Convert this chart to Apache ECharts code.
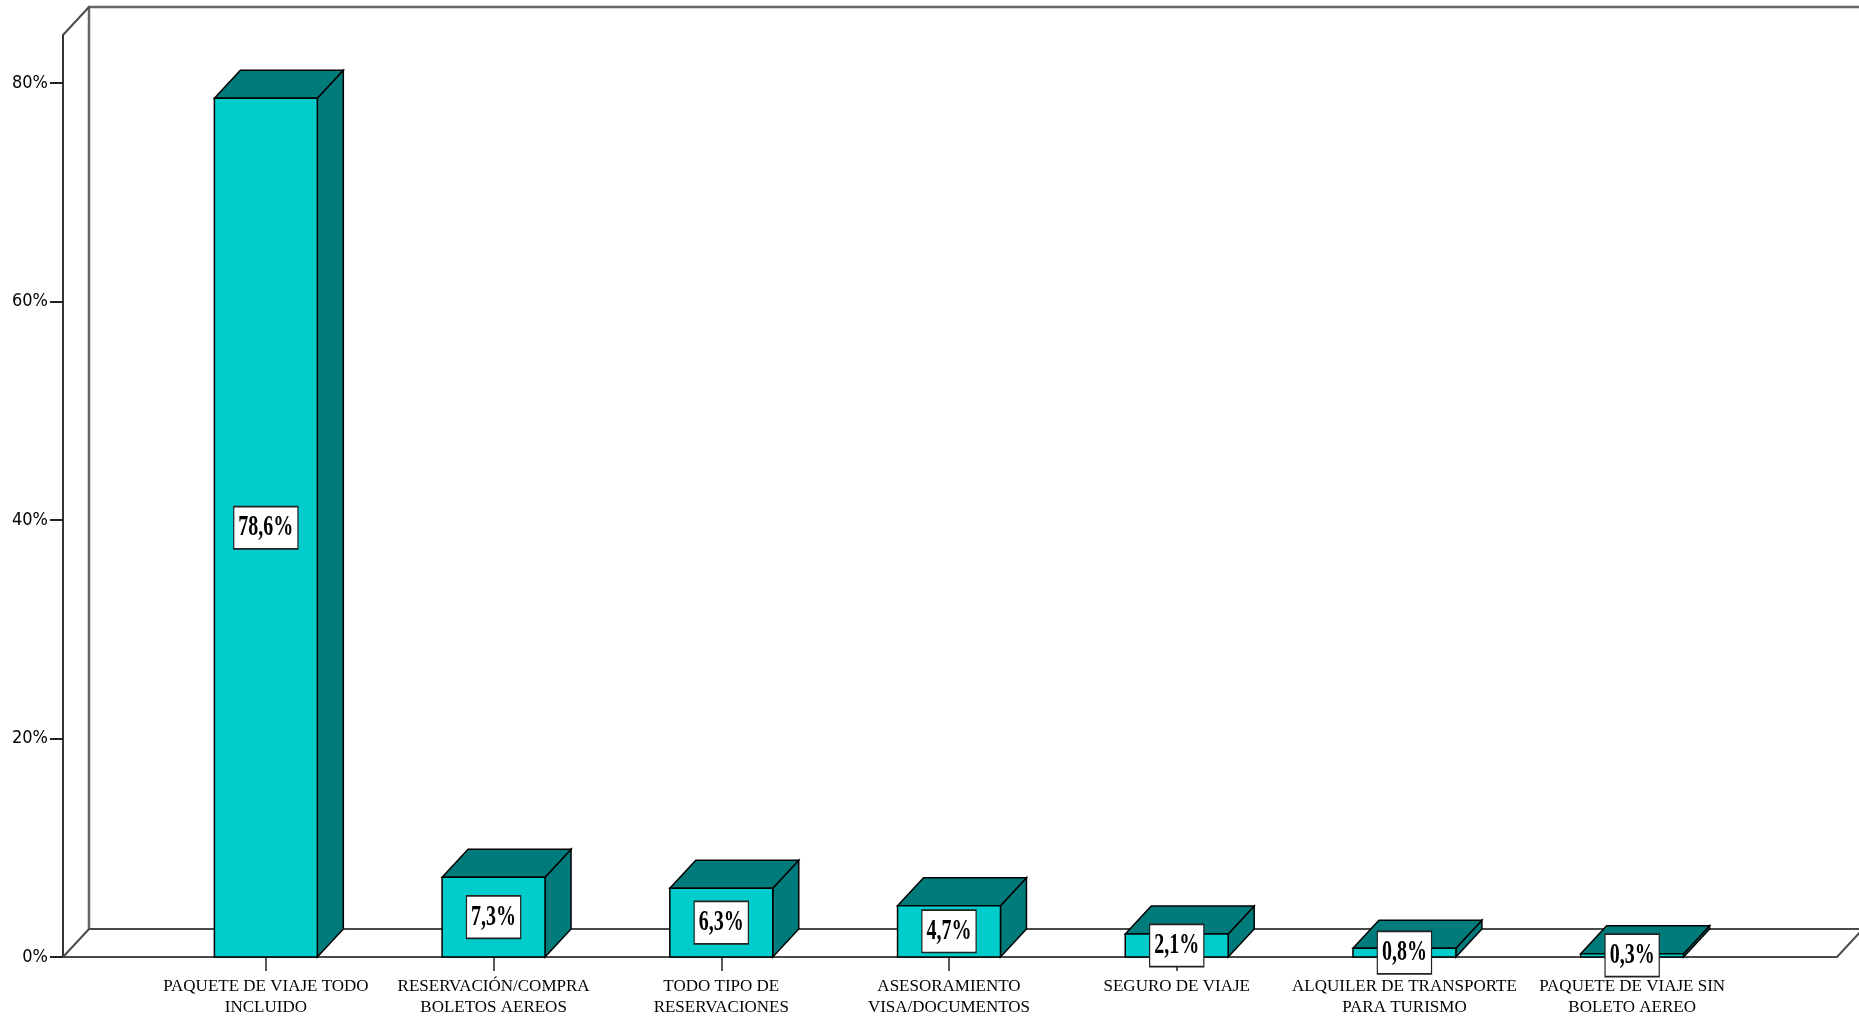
<!DOCTYPE html>
<html>
<head>
<meta charset="utf-8">
<script src="https://cdn.jsdelivr.net/npm/echarts@6.0.0/dist/echarts.min.js"></script>
<style>
  html, body { margin: 0; padding: 0; background: #fff; }
  #chart { width: 1859px; height: 1024px; }
</style>
</head>
<body>
<div id="chart"></div>
<script>
// datos
var categories = [
  'PAQUETE DE VIAJE TODO\nINCLUIDO',
  'RESERVACIÓN/COMPRA\nBOLETOS AEREOS',
  'TODO TIPO DE\nRESERVACIONES',
  'ASESORAMIENTO\nVISA/DOCUMENTOS',
  'SEGURO DE VIAJE',
  'ALQUILER DE TRANSPORTE\nPARA TURISMO',
  'PAQUETE DE VIAJE SIN\nBOLETO AEREO'
];
var values = [78.6, 7.3, 6.3, 4.7, 2.1, 0.8, 0.3];
var yTicks = [0, 20, 40, 60, 80];

// profundidad del efecto 3D
var DX = 26, DY = -28;
var EXT_L = 89, EXT_R = 91;
var FRONT = '#00CCCC', DARK = '#007B7B';

function fmt(v) {
  return v.toFixed(1).replace('.', ',') + '%';
}

var chart = echarts.init(document.getElementById('chart'));

function renderFrame(params, api) {
  var cs = params.coordSys;
  var L = cs.x - EXT_L, R = cs.x + cs.width + EXT_R;
  var T = cs.y, B = cs.y + cs.height;
  function line(pts, color, w) {
    return { type: 'polyline', shape: { points: pts },
      style: { stroke: color || '#4a4a4a', lineWidth: w || 2, fill: null } };
  }
  return {
    type: 'group',
    children: [
      line([[L + DX, B + DY], [L + DX, T + DY], [R + DX + 10, T + DY]], '#666', 2.5),
      line([[L, T], [L + DX, T + DY]]),
      line([[L, B], [L + DX, B + DY], [R + DX, B + DY]]),
      line([[L, B], [R, B], [R + DX, B + DY]])
    ]
  };
}

function renderBar(params, api) {
  var i = api.value(0), v = api.value(1);
  var top = api.coord([i, v]);
  var base = api.coord([i, 0]);
  var w = api.size([1, 0])[0] * 0.452;
  var x0 = base[0] - w / 2, x1 = base[0] + w / 2;
  var yT = top[1], yB = base[1];
  var edge = { stroke: '#000', lineWidth: 1.5 };
  return {
    type: 'group',
    children: [
      { type: 'polygon', shape: { points: [[x1, yB], [x1 + DX, yB + DY], [x1 + DX, yT + DY], [x1, yT]] },
        style: Object.assign({ fill: DARK }, edge) },
      { type: 'polygon', shape: { points: [[x0, yT], [x0 + DX, yT + DY], [x1 + DX, yT + DY], [x1, yT]] },
        style: Object.assign({ fill: DARK }, edge) },
      { type: 'rect', shape: { x: x0, y: yT, width: w, height: yB - yT },
        style: Object.assign({ fill: FRONT }, edge) },
      { type: 'text', x: base[0], y: (yT + yB) / 2, scaleY: 1.45,
        style: {
          text: fmt(v), fontFamily: 'Liberation Serif', fontWeight: 'bold', fontSize: 20,
          fill: '#000', align: 'center', verticalAlign: 'middle',
          backgroundColor: '#fff', borderColor: '#222', borderWidth: 1.2,
          padding: [4, 4, 4, 4]
        } }
    ]
  };
}

chart.setOption({
  backgroundColor: '#fff',
  animation: false,
  grid: { left: 152, right: 113, top: 35, bottom: 67 },
  xAxis: {
    type: 'category',
    data: categories,
    axisLine: { show: false },
    axisTick: { show: true, alignWithLabel: true, length: 14, lineStyle: { color: '#222', width: 1.5 } },
    axisLabel: {
      interval: 0, margin: 19, color: '#000',
      fontFamily: 'Liberation Serif', fontSize: 17, lineHeight: 21
    },
    splitLine: { show: false }
  },
  yAxis: {
    type: 'value',
    min: 0, max: 84.4, interval: 20,
    offset: EXT_L,
    axisLine: { show: true, lineStyle: { color: '#333', width: 2 } },
    axisTick: { show: true, length: 13, customValues: yTicks, lineStyle: { color: '#222', width: 2 } },
    axisLabel: {
      customValues: yTicks, margin: 15, color: '#000',
      fontFamily: 'DejaVu Sans Condensed, Liberation Sans, sans-serif', fontSize: 18,
      formatter: function (v) { return v + '%'; }
    },
    splitLine: { show: false }
  },
  series: [
    { type: 'custom', z: 1, renderItem: renderFrame, data: [[0, 0]], silent: true },
    { type: 'custom', z: 3, renderItem: renderBar,
      data: values.map(function (v, i) { return [i, v]; }) }
  ]
});
</script>
</body>
</html>
